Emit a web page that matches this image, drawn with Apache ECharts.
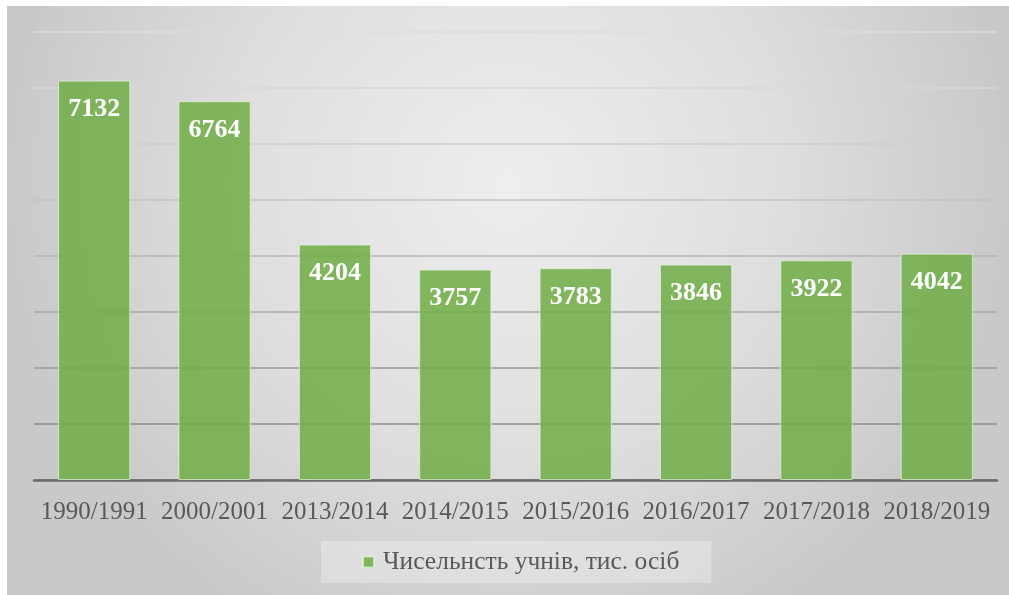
<!DOCTYPE html>
<html>
<head>
<meta charset="utf-8">
<script src="https://cdn.jsdelivr.net/npm/echarts@6/dist/echarts.min.js"></script>
<style>
  html, body {
    margin: 0;
    padding: 0;
    background: #ffffff;
  }
  #chart {
    position: absolute;
    left: 7px;
    top: 6px;
    width: 1002px;
    height: 589px;
  }
</style>
</head>
<body>
<div id="chart"></div>
<script>
let years = ["1990/1991", "2000/2001", "2013/2014", "2014/2015", "2015/2016", "2016/2017", "2017/2018", "2018/2019"];
let pupils = [7132, 6764, 4204, 3757, 3783, 3846, 3922, 4042];
let seriesName = "Чисельнсть учнів, тис. осіб";

let chart = echarts.init(document.getElementById("chart"));
let serif = "Liberation Serif";
// split lines get darker towards the axis
let gridColors = ["#8a8a8a", "#8c8c8c", "#9a9a9a", "#a9a9a9", "#b6b6b6", "#c3c3c3", "#cecece", "#d7d7d7", "#dcdcdc"];

let option = {
  animation: false,
  backgroundColor: {
    type: "radial",
    x: 0.5,
    y: 0.3,
    r: 0.85,
    colorStops: [
      { offset: 0, color: "#eeeeee" },
      { offset: 0.55, color: "#dedede" },
      { offset: 1, color: "#c9c9c9" },
    ],
  },
  grid: {
    left: 27,
    right: 12,
    top: 26,
    bottom: 115,
  },
  legend: {
    data: [seriesName],
    left: 314,
    top: 535,
    padding: [8, 32, 8, 41],
    backgroundColor: "rgba(255,255,255,0.28)",
    icon: "rect",
    itemWidth: 11,
    itemHeight: 11,
    textStyle: {
      fontFamily: serif,
      fontSize: 25.5,
      color: "#595959",
      padding: [0, 0, 0, 4],
    },
  },
  xAxis: {
    type: "category",
    data: years,
    axisTick: { show: false },
    axisLine: {
      lineStyle: { color: "#6b6b6b", width: 2.5 },
    },
    axisLabel: {
      interval: 0,
      margin: 20,
      fontFamily: serif,
      fontSize: 25,
      color: "#595959",
    },
  },
  yAxis: {
    type: "value",
    min: 0,
    max: 8000,
    interval: 1000,
    axisLabel: { show: false },
    axisLine: { show: false },
    axisTick: { show: false },
    splitLine: {
      lineStyle: { color: gridColors, width: 1.5 },
    },
  },
  series: [
    {
      name: seriesName,
      type: "bar",
      barWidth: "60%",
      data: pupils,
      itemStyle: {
        color: "rgba(112,173,71,0.86)",
        borderColor: "rgba(230,245,220,0.7)",
        borderWidth: 1,
      },
      label: {
        show: true,
        position: "insideTop",
        distance: 16,
        fontFamily: serif,
        fontWeight: "bold",
        fontSize: 26,
        color: "#ffffff",
      },
    },
  ],
};

chart.setOption(option);
</script>
</body>
</html>
